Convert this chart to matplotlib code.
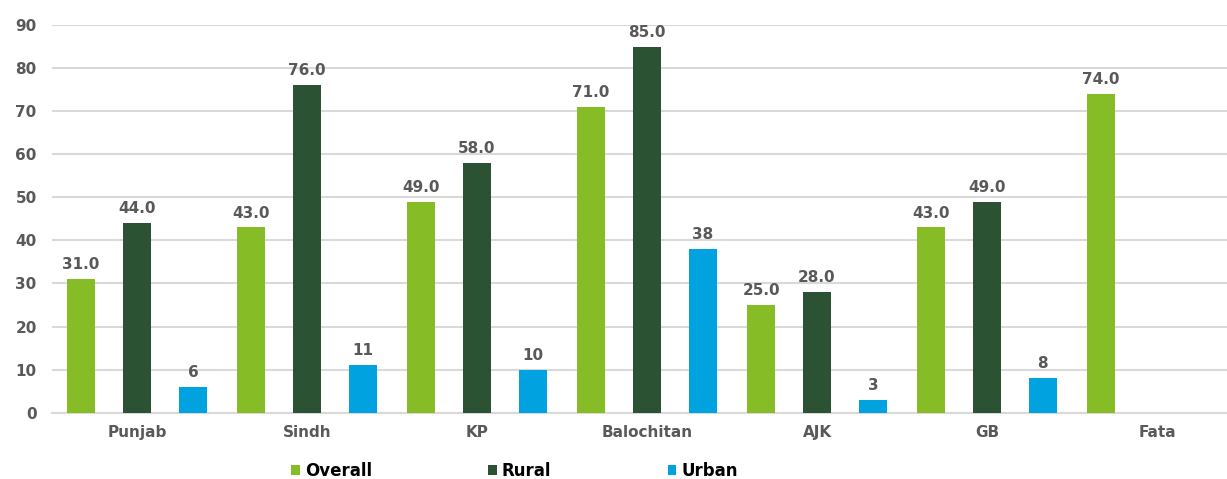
import numpy as np
import matplotlib
matplotlib.use("Agg")
import matplotlib.pyplot as plt

categories = ["Punjab", "Sindh", "KP", "Balochitan", "AJK", "GB", "Fata"]
overall = [31, 43, 49, 71, 25, 43, 74]
rural = [44, 76, 58, 85, 28, 49, np.nan]
urban = [6, 11, 10, 38, 3, 8, np.nan]
yticks = [0, 10, 20, 30, 40, 50, 60, 70, 80, 90]

c_overall = "#86BC25"
c_rural = "#2C5234"
c_urban = "#00A3E0"
grey = "#595959"

plt.rcParams['font.family'] = ['DejaVu Sans']

fig = plt.figure(figsize=(12.27, 4.79), dpi=100)
ax = fig.add_axes([52/1227, 1-412.7/479, 1190/1227, (412.7-25)/479])

x = np.arange(len(categories))
w = 0.168
off = 0.329
b1 = ax.bar(x - off, overall, w, color=c_overall, label="Overall", zorder=3)
b2 = ax.bar(x, rural, w, color=c_rural, label="Rural", zorder=3)
b3 = ax.bar(x + off, urban, w, color=c_urban, label="Urban", zorder=3)

lab_kw = dict(padding=5, color=grey, fontsize=11, fontweight='bold')
ax.bar_label(b1, labels=[f"{v:.1f}" for v in overall], **lab_kw)
ax.bar_label(b2, labels=["" if np.isnan(v) else f"{v:.1f}" for v in rural], **lab_kw)
ax.bar_label(b3, labels=["" if np.isnan(v) else f"{v:.0f}" for v in urban], **lab_kw)

ax.set_xlim(-0.5, 6.5)
ax.set_ylim(0, 90)
ax.set_yticks(yticks)
ax.set_xticks(x)
ax.set_xticklabels(categories)
ax.yaxis.grid(True, color="#D9D9D9", linewidth=1.5, zorder=0)
ax.set_axisbelow(True)
for s in ["top", "right", "left"]:
    ax.spines[s].set_visible(False)
ax.spines["bottom"].set_color("#D9D9D9")
ax.spines["bottom"].set_linewidth(1.5)
ax.tick_params(axis='both', length=0, labelcolor=grey, labelsize=11)
ax.tick_params(axis='y', pad=11)
ax.tick_params(axis='x', pad=9)
for t in ax.get_xticklabels() + ax.get_yticklabels():
    t.set_fontweight('bold')

leg = fig.legend(handles=[b1, b2, b3], loc='center left',
                 bbox_to_anchor=(283/1227, 1-471/479), ncol=3, frameon=False,
                 prop={'weight': 'bold', 'size': 12,
                       'family': ['Liberation Sans Narrow', 'DejaVu Sans']},
                 handlelength=0.5, handleheight=0.5, handletextpad=0.3,
                 columnspacing=7.0, borderpad=0)

fig.savefig("out.png", dpi=100)
